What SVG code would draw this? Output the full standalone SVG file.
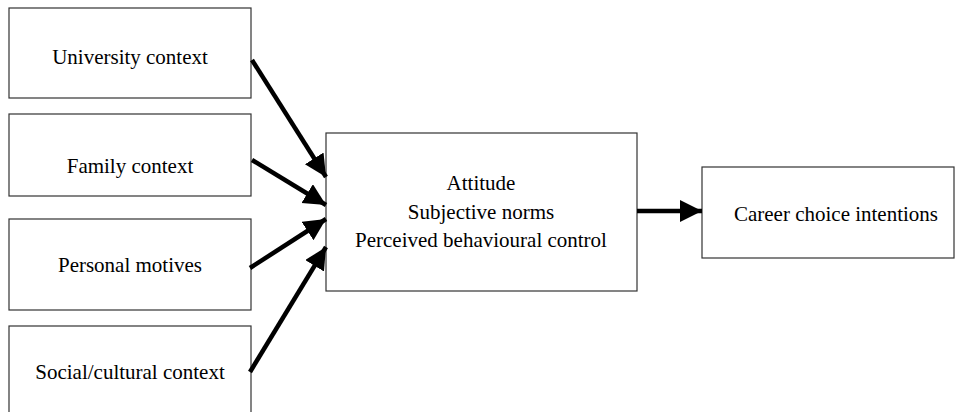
<svg xmlns="http://www.w3.org/2000/svg" width="955" height="412" viewBox="0 0 955 412">
<style>
.box{fill:#fff;stroke:#333;stroke-width:1.2}
.t{font-family:"Liberation Serif","Times New Roman",serif;font-size:21px;fill:#000;text-anchor:middle}
.c{stroke:#000;stroke-width:4.5;fill:none;marker-end:url(#ah)}
</style>
<defs>
<marker id="ah" markerUnits="userSpaceOnUse" markerWidth="24" markerHeight="24" refX="22" refY="11" orient="auto">
<path d="M0,0 L22,11 L0,22 Z" fill="#000"/>
</marker>
</defs>
<rect width="955" height="412" fill="#fff"/>
<g id="n1"><rect class="box" x="9" y="8" width="242" height="90"/><text class="t" x="130" y="64">University context</text></g>
<g id="n2"><rect class="box" x="9" y="114" width="242" height="82"/><text class="t" x="130" y="173">Family context</text></g>
<g id="n3"><rect class="box" x="9" y="219" width="242" height="91"/><text class="t" x="130" y="272">Personal motives</text></g>
<g id="n4"><rect class="box" x="9" y="326" width="242" height="100"/><text class="t" x="130" y="379">Social/cultural context</text></g>
<g id="n5"><rect class="box" x="326" y="133" width="311" height="158"/>
<text class="t" x="481" y="190">Attitude</text>
<text class="t" x="481" y="219">Subjective norms</text>
<text class="t" x="481" y="247">Perceived behavioural control</text></g>
<g id="n6"><rect class="box" x="702" y="167" width="252" height="91"/><text class="t" x="836" y="221">Career choice intentions</text></g>
<g id="connectors">
<line class="c" x1="252" y1="60" x2="326" y2="177"/>
<line class="c" x1="252" y1="160" x2="326" y2="205"/>
<line class="c" x1="250" y1="268" x2="326" y2="219"/>
<line class="c" x1="250" y1="372" x2="326" y2="247"/>
<line class="c" x1="637" y1="211" x2="702" y2="211"/>
</g>
</svg>
